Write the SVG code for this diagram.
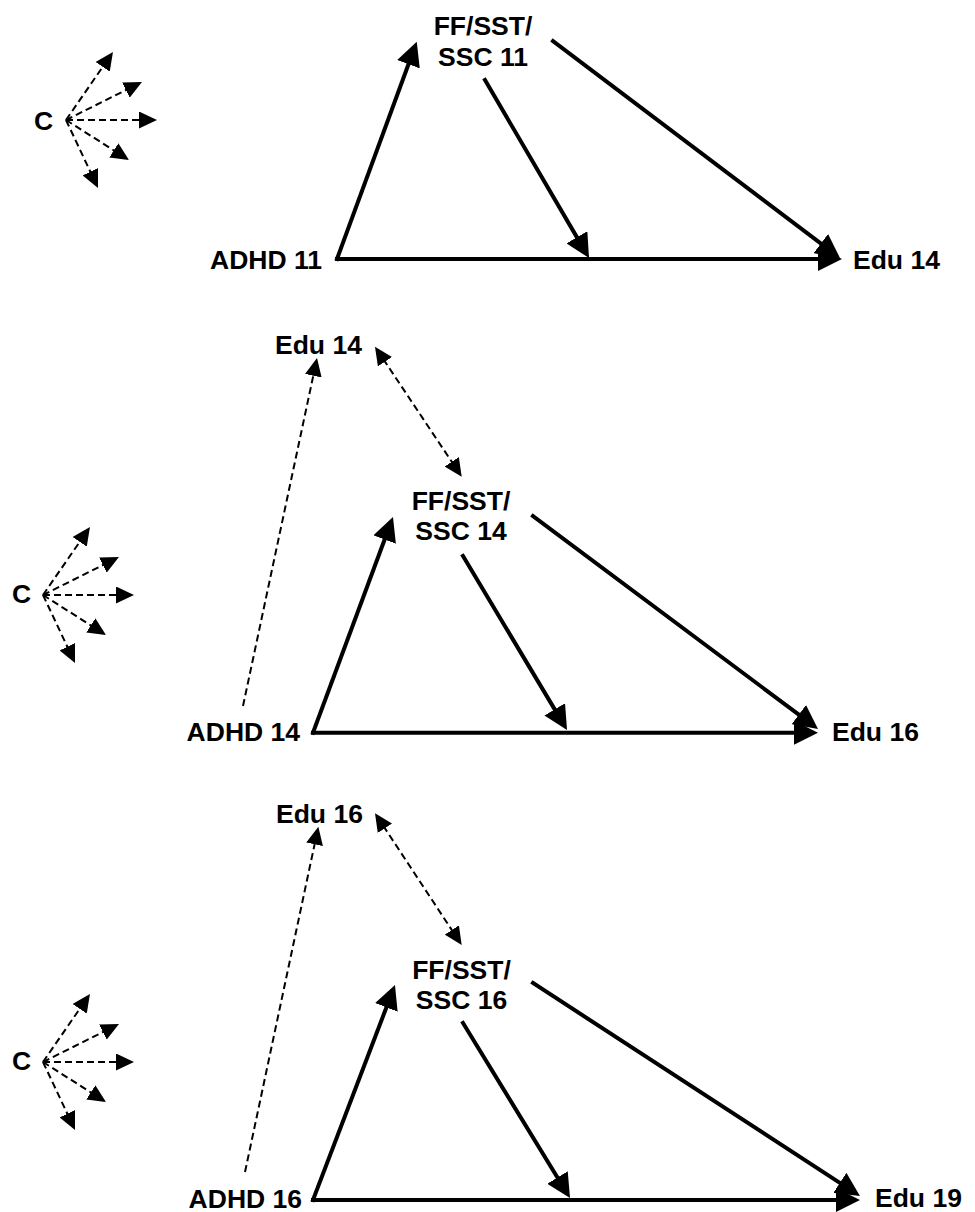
<svg xmlns="http://www.w3.org/2000/svg" width="975" height="1212" viewBox="0 0 975 1212">
<style>
  text { font-family: "Liberation Sans", Arial, sans-serif; font-weight: bold; font-size: 26.5px; fill: #000; }
  .mid { text-anchor: middle; }
  .end { text-anchor: end; }
  .main { stroke: #000; stroke-width: 4; fill: none; stroke-linecap: square; marker-end: url(#bigArrow); }
  .dash { stroke: #000; stroke-width: 2; fill: none; stroke-dasharray: 7 4; marker-end: url(#smallArrow); }
  .bidash { stroke: #000; stroke-width: 2; fill: none; stroke-dasharray: 7 4; marker-end: url(#smallArrow); marker-start: url(#smallArrow); }
</style>
<defs>
  <marker id="bigArrow" markerUnits="userSpaceOnUse" markerWidth="24" markerHeight="24" refX="14" refY="12" orient="auto-start-reverse">
    <path d="M0,0 L24,12 L0,24 Z" fill="#000"/>
  </marker>
  <marker id="smallArrow" markerUnits="userSpaceOnUse" markerWidth="18" markerHeight="17" refX="14" refY="8.5" orient="auto-start-reverse">
    <path d="M0,0 L18,8.5 L0,17 Z" fill="#000"/>
  </marker>
</defs>
<rect width="975" height="1212" fill="#fff"/>

<g id="connectors">
  <!-- Panel 1 -->
  <g id="fan1" transform="translate(66,120)">
    <line class="dash" x1="0" y1="0" x2="44.7" y2="-64.7"/>
    <line class="dash" x1="0" y1="0" x2="72.4" y2="-36.2"/>
    <line class="dash" x1="0" y1="0" x2="87" y2="0"/>
    <line class="dash" x1="0" y1="0" x2="59.6" y2="37.9"/>
    <line class="dash" x1="0" y1="0" x2="30.3" y2="64.4"/>
  </g>
  <line class="main" x1="337" y1="259" x2="413.3" y2="51.1"/>
  <line class="main" x1="485" y1="80" x2="584" y2="249.4"/>
  <line class="main" x1="553" y1="41" x2="832" y2="252"/>
  <line class="main" x1="337" y1="259" x2="832" y2="259"/>

  <!-- Panel 2 -->
  <g id="fan2" transform="translate(43,595)">
    <line class="dash" x1="0" y1="0" x2="44.7" y2="-64.7"/>
    <line class="dash" x1="0" y1="0" x2="72.4" y2="-36.2"/>
    <line class="dash" x1="0" y1="0" x2="87" y2="0"/>
    <line class="dash" x1="0" y1="0" x2="59.6" y2="37.9"/>
    <line class="dash" x1="0" y1="0" x2="30.3" y2="64.4"/>
  </g>
  <line class="dash" x1="243" y1="706" x2="316.2" y2="362"/>
  <line class="bidash" x1="377.2" y1="350" x2="459.5" y2="473.4"/>
  <line class="main" x1="313" y1="732.7" x2="389.5" y2="526.4"/>
  <line class="main" x1="463" y1="556" x2="561.9" y2="721.4"/>
  <line class="main" x1="533" y1="516" x2="810" y2="723"/>
  <line class="main" x1="313" y1="732.7" x2="808" y2="732.7"/>

  <!-- Panel 3 -->
  <g id="fan3" transform="translate(43,1062)">
    <line class="dash" x1="0" y1="0" x2="44.7" y2="-64.7"/>
    <line class="dash" x1="0" y1="0" x2="72.4" y2="-36.2"/>
    <line class="dash" x1="0" y1="0" x2="87" y2="0"/>
    <line class="dash" x1="0" y1="0" x2="59.6" y2="37.9"/>
    <line class="dash" x1="0" y1="0" x2="30.3" y2="64.4"/>
  </g>
  <line class="dash" x1="245" y1="1172" x2="317.5" y2="830.6"/>
  <line class="bidash" x1="377.2" y1="816.6" x2="459.5" y2="941.7"/>
  <line class="main" x1="313" y1="1200" x2="391.4" y2="994.3"/>
  <line class="main" x1="463" y1="1023" x2="564.8" y2="1189.5"/>
  <line class="main" x1="533" y1="983" x2="851.6" y2="1190.5"/>
  <line class="main" x1="313" y1="1200" x2="850" y2="1200"/>
</g>

<!-- Panel 1 nodes -->
<g id="C1"><text x="34" y="130">C</text></g>
<g id="FF11"><text class="mid" x="483" y="35">FF/SST/</text><text class="mid" x="483" y="66">SSC 11</text></g>
<g id="ADHD11"><text class="end" x="322" y="269">ADHD 11</text></g>
<g id="Edu14a"><text x="853" y="269">Edu 14</text></g>

<!-- Panel 2 nodes -->
<g id="Edu14b"><text x="275" y="354">Edu 14</text></g>
<g id="FF14"><text class="mid" x="461" y="510">FF/SST/</text><text class="mid" x="461" y="540">SSC 14</text></g>
<g id="C2"><text x="12" y="603">C</text></g>
<g id="ADHD14"><text class="end" x="300" y="741">ADHD 14</text></g>
<g id="Edu16a"><text x="832" y="741">Edu 16</text></g>

<!-- Panel 3 nodes -->
<g id="Edu16b"><text x="276" y="823">Edu 16</text></g>
<g id="FF16"><text class="mid" x="461.5" y="979">FF/SST/</text><text class="mid" x="461.5" y="1009">SSC 16</text></g>
<g id="C3"><text x="12" y="1070">C</text></g>
<g id="ADHD16"><text class="end" x="302" y="1208">ADHD 16</text></g>
<g id="Edu19"><text x="875" y="1207">Edu 19</text></g>
</svg>
